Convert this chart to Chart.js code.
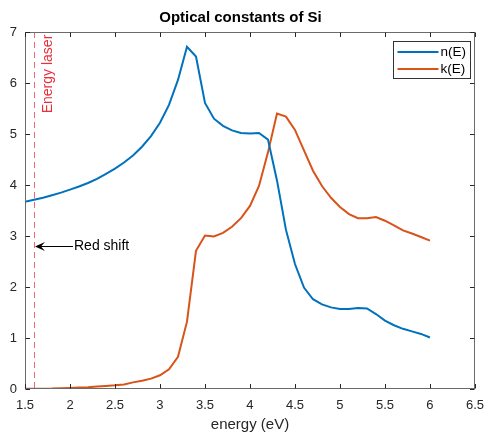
<!DOCTYPE html>
<html><head><meta charset="utf-8">
<script src="https://cdn.jsdelivr.net/npm/chart.js@4.4.1/dist/chart.umd.min.js"></script>
<style>html,body{margin:0;padding:0;background:#fff;}#wrap{width:493px;height:437px;}</style>
</head><body><div id="wrap"><canvas id="c" width="493" height="437"></canvas></div>
<script>
const energy = [1.5,1.6,1.7,1.8,1.9,2.0,2.1,2.2,2.3,2.4,2.5,2.6,2.7,2.8,2.9,3.0,3.1,3.2,3.3,3.4,3.5,3.6,3.7,3.8,3.9,4.0,4.1,4.2,4.3,4.4,4.5,4.6,4.7,4.8,4.9,5.0,5.1,5.2,5.3,5.4,5.5,5.6,5.7,5.8,5.9,6.0];
const nValues = [3.67,3.71,3.75,3.80,3.85,3.91,3.97,4.04,4.12,4.22,4.32,4.44,4.58,4.75,4.96,5.22,5.57,6.06,6.71,6.52,5.61,5.30,5.16,5.07,5.02,5.01,5.02,4.89,4.09,3.12,2.45,1.99,1.76,1.66,1.60,1.57,1.57,1.59,1.58,1.47,1.34,1.25,1.18,1.13,1.08,1.01];
const kValues = [0.005,0.005,0.006,0.009,0.016,0.022,0.030,0.035,0.048,0.060,0.073,0.090,0.130,0.163,0.203,0.269,0.387,0.630,1.32,2.71,3.01,2.99,3.06,3.18,3.35,3.59,3.98,4.64,5.40,5.34,5.08,4.68,4.28,3.98,3.75,3.57,3.43,3.35,3.35,3.37,3.30,3.21,3.11,3.05,2.98,2.91];
const seriesLabels = ['n(E)','k(E)'];
const xTickValues = [1.5,2,2.5,3,3.5,4,4.5,5,5.5,6,6.5];
const xTickLabels = ['1.5','2','2.5','3','3.5','4','4.5','5','5.5','6','6.5'];
const yTickValues = [0,1,2,3,4,5,6,7];
const laserEnergy = 1.6;
const laserLabel = 'Energy laser';
const arrowLevel = 2.8;
const arrowLabel = 'Red shift';

const FONT = "'Liberation Sans', Arial, Helvetica, sans-serif";
const AX = '#262626';

const decor = {
  id: 'decor',
  beforeDatasetsDraw(chart) {
    const ctx = chart.ctx, a = chart.chartArea;
    const xs = chart.scales.x;
    const lx = xs.getPixelForValue(laserEnergy);
    ctx.save();
    ctx.strokeStyle = 'rgba(230,70,80,0.8)';
    ctx.lineWidth = 1;
    ctx.setLineDash([6,4]);
    ctx.beginPath(); ctx.moveTo(Math.round(lx)+0.5, a.top); ctx.lineTo(Math.round(lx)+0.5, a.bottom); ctx.stroke();
    ctx.setLineDash([]);
    ctx.fillStyle = '#e8303a';
    ctx.font = "14px " + FONT;
    ctx.translate(lx + 14, a.top + 42);
    ctx.rotate(-Math.PI/2);
    ctx.textAlign = 'center'; ctx.textBaseline = 'middle';
    ctx.fillText(laserLabel, 0, 0);
    ctx.restore();
  },
  afterDatasetsDraw(chart) {
    const ctx = chart.ctx, a = chart.chartArea;
    const xs = chart.scales.x, ys = chart.scales.y;
    ctx.save();
    const lx = xs.getPixelForValue(laserEnergy);
    const ay = Math.round(ys.getPixelForValue(arrowLevel)) + 0.5;
    const tipX = lx + 1, tailX = lx + 39;
    ctx.strokeStyle = '#000'; ctx.fillStyle = '#000'; ctx.lineWidth = 1;
    ctx.beginPath(); ctx.moveTo(tipX + 4, ay); ctx.lineTo(tailX, ay); ctx.stroke();
    ctx.beginPath();
    ctx.moveTo(tipX, ay); ctx.lineTo(tipX + 10, ay - 4.5); ctx.lineTo(tipX + 6, ay); ctx.lineTo(tipX + 10, ay + 4.5); ctx.closePath(); ctx.fill();
    ctx.font = "14px " + FONT; ctx.textAlign = 'left'; ctx.textBaseline = 'middle';
    ctx.fillText(arrowLabel, tailX + 1, ay);
    ctx.strokeStyle = '#6b6b6b'; ctx.lineWidth = 1;
    const L = Math.round(a.left)+0.5, R = Math.round(a.right)-0.5, T = Math.round(a.top)+0.5, B = Math.round(a.bottom)-0.5;
    ctx.strokeRect(L, T, R-L, B-T);
    ctx.strokeStyle = AX;
    ctx.beginPath();
    xTickValues.forEach(v => {
      const px = Math.round(xs.getPixelForValue(v)) + 0.5;
      ctx.moveTo(px, B); ctx.lineTo(px, B - 4.5);
      ctx.moveTo(px, T); ctx.lineTo(px, T + 4.5);
    });
    yTickValues.forEach(v => {
      const py = Math.round(ys.getPixelForValue(v)) + 0.5;
      ctx.moveTo(L, py); ctx.lineTo(L + 4.5, py);
      ctx.moveTo(R, py); ctx.lineTo(R - 4.5, py);
    });
    ctx.stroke();
    const bx = 393.5, by = 41.5, bw = 77, bh = 37;
    ctx.fillStyle = '#fff'; ctx.fillRect(bx, by, bw, bh);
    ctx.strokeStyle = '#333'; ctx.lineWidth = 1; ctx.strokeRect(bx, by, bw, bh);
    ctx.font = "13.5px " + FONT; ctx.textAlign = 'left'; ctx.textBaseline = 'middle';
    chart.data.datasets.forEach((ds, i) => {
      const yy = by + 10.5 + i * 17;
      ctx.strokeStyle = ds.borderColor; ctx.lineWidth = 2;
      ctx.beginPath(); ctx.moveTo(bx + 4, yy); ctx.lineTo(bx + 45, yy); ctx.stroke();
      ctx.fillStyle = '#000';
      ctx.fillText(ds.label, bx + 47, yy + 0.5);
    });
    ctx.restore();
  }
};

new Chart(document.getElementById('c'), {
  type: 'line',
  data: {
    datasets: [
      { label: seriesLabels[0], data: energy.map((e,i)=>({x:e,y:nValues[i]})), borderColor: '#0072BD', borderWidth: 2, pointRadius: 0, tension: 0, fill: false },
      { label: seriesLabels[1], data: energy.map((e,i)=>({x:e,y:kValues[i]})), borderColor: '#D95319', borderWidth: 2, pointRadius: 0, tension: 0, fill: false }
    ]
  },
  options: {
    responsive: false, animation: false, devicePixelRatio: 1,
    layout: { padding: { left: 0, right: 12, top: 0, bottom: 0 } },
    plugins: {
      legend: { display: false }, tooltip: { enabled: false },
      title: { display: true, text: 'Optical constants of Si', color: '#000', font: { family: FONT, size: 15, weight: 'bold' }, padding: { top: 9, bottom: 5 } }
    },
    scales: {
      x: {
        type: 'linear', min: 1.5, max: 6.5,
        afterBuildTicks: s => { s.ticks = xTickValues.map(v => ({ value: v })); },
        afterFit: s => { s.height = 48; },
        grid: { display: false, drawTicks: false }, border: { display: false },
        ticks: { color: AX, padding: 9, maxRotation: 0, autoSkip: false, font: { family: FONT, size: 13 },
          callback: (v) => xTickLabels[xTickValues.indexOf(v)] ?? String(v) },
        title: { display: true, text: 'energy (eV)', color: AX, font: { family: FONT, size: 15 }, padding: { top: 2, bottom: 3 } }
      },
      y: {
        min: 0, max: 7,
        afterBuildTicks: s => { s.ticks = yTickValues.map(v => ({ value: v })); },
        afterFit: s => { s.width = 25; },
        grid: { display: false, drawTicks: false }, border: { display: false },
        ticks: { color: AX, padding: 8, autoSkip: false, font: { family: FONT, size: 13 } }
      }
    }
  },
  plugins: [decor]
});
</script></body></html>
